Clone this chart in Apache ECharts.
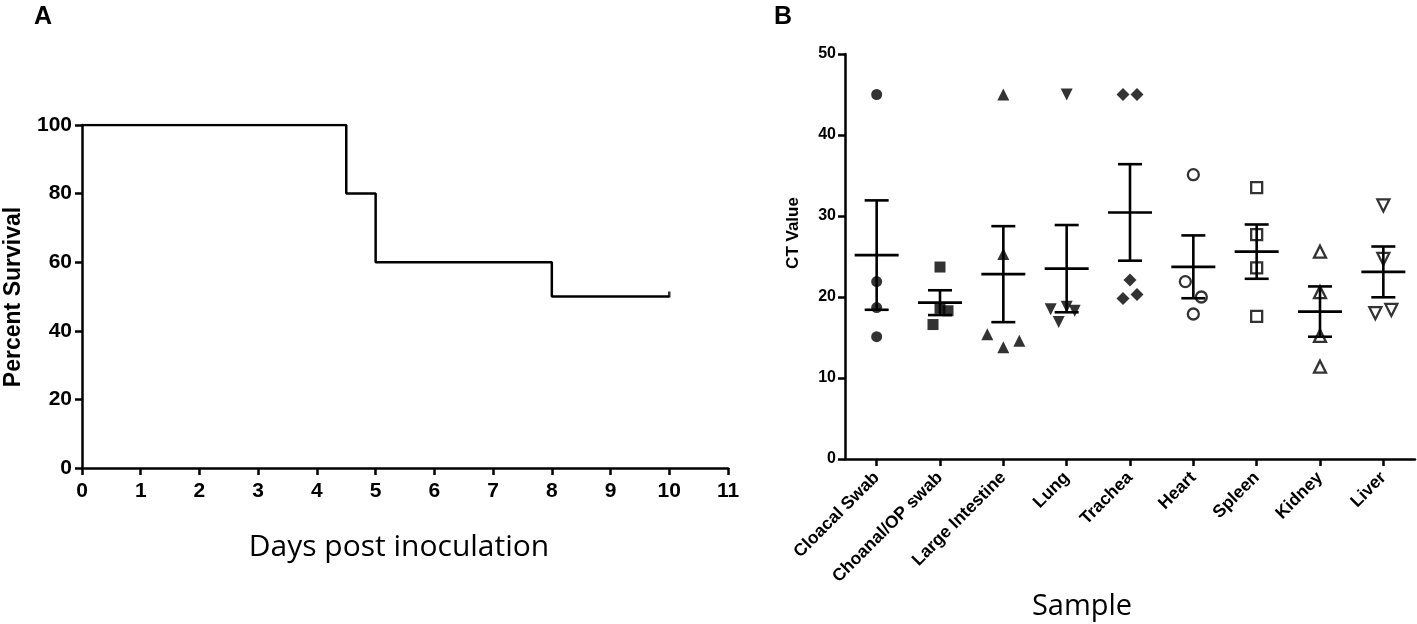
<!DOCTYPE html>
<html>
<head>
<meta charset="utf-8">
<script src="https://cdn.jsdelivr.net/npm/echarts@6/dist/echarts.min.js"></script>
<style>
html,body{margin:0;padding:0;background:#fff;}
#chart{width:1417px;height:624px;}
</style>
</head>
<body>
<div id="chart"></div>
<script>
// ---- Panel A data ----
const survDays = [0, 4.5, 5, 8, 10];
const survPct = [100, 80, 60, 50, 50];
const daysTicks = [0,1,2,3,4,5,6,7,8,9,10,11];

// ---- Panel B data ----
const categories = ['Cloacal Swab','Choanal/OP swab','Large Intestine','Lung','Trachea','Heart','Spleen','Kidney','Liver'];
const ctCloacal = [45, 21.9, 18.7, 15.1];
const ctChoanal = [23.7, 18.6, 18.3, 16.6];
const ctLargeInt = [45, 25.3, 15.4, 13.8, 14.6];
const ctLung = [45, 18.5, 16.9, 18.8, 18.3];
const ctTrachea = [45, 45, 22.1, 19.8, 20.3];
const ctHeart = [35.1, 21.9, 20.0, 17.9];
const ctSpleen = [33.5, 27.7, 23.6, 17.6];
const ctKidney = [25.6, 20.6, 15.2, 11.4];
const ctLiver = [31.3, 24.7, 18.0, 18.4];
const ctValues = [ctCloacal, ctChoanal, ctLargeInt, ctLung, ctTrachea, ctHeart, ctSpleen, ctKidney, ctLiver];

// horizontal jitter of each dot (pixels, presentation only)
const jitterPx = [
  [0,0,0,0],[0,0,8,-7],[0,0,-16,0,16],[0,-16,-8,0,8],[-7,7,0,-7,7],
  [0,-8,8,0],[0,0,0,0],[0,0,0,0],[0,0,-8,8]
];

const invTri = 'path://M0,0 L10,0 L5,9 Z';
const markerStyles = [
  {symbol:'circle', size:11, open:false},
  {symbol:'rect', size:11, open:false},
  {symbol:'triangle', size:12, open:false},
  {symbol:invTri, size:12, open:false},
  {symbol:'diamond', size:13, open:false},
  {symbol:'circle', size:11, open:true},
  {symbol:'rect', size:11, open:true},
  {symbol:'triangle', size:12, open:true},
  {symbol:invTri, size:12, open:true}
];

function meanSem(arr){
  const n = arr.length;
  const m = arr.reduce((a,b)=>a+b,0)/n;
  const sd = Math.sqrt(arr.reduce((a,b)=>a+(b-m)*(b-m),0)/(n-1));
  return [m, sd/Math.sqrt(n)];
}
const stats = ctValues.map((v,i)=>{ const r = meanSem(v); return [i, r[0], r[0]-r[1], r[0]+r[1]]; });

const FONT = 'Liberation Sans';
const TITLE_FONT = 'Open Sans';
const axisLine = {show:true, lineStyle:{color:'#000', width:2.5}};
const axisTick = {show:true, length:7, lineStyle:{color:'#000', width:2.5}};

const scatterSeries = ctValues.map((vals, ci)=>{
  const ms = markerStyles[ci];
  return {
    type:'scatter', xAxisIndex:1, yAxisIndex:1, z:3,
    symbol: ms.symbol, symbolSize: ms.size,
    itemStyle: ms.open ? {color:'#fff', borderColor:'#000', borderWidth:2.3} : {color:'#000'},
    data: vals.map((v,k)=>({value:[ci, v], symbolOffset:[jitterPx[ci][k], 0]}))
  };
});

const chart = echarts.init(document.getElementById('chart'));
chart.setOption({
  animation:false,
  backgroundColor:'#fff',
  graphic:[
    {type:'text', left:34, top:5, style:{text:'A', font:'bold 25px "Liberation Sans"', fill:'#000'}},
    {type:'text', left:774, top:5, style:{text:'B', font:'bold 25px "Liberation Sans"', fill:'#000'}},
    {type:'text', x:399, y:547, style:{text:'Days post inoculation', font:'30px "Open Sans"', fill:'#000', textAlign:'center', textVerticalAlign:'middle'}},
    {type:'text', x:1082, y:607, style:{text:'Sample', font:'29px "Open Sans"', fill:'#000', textAlign:'center', textVerticalAlign:'middle'}},
    {type:'text', x:14, y:297, rotation:Math.PI/2, style:{text:'Percent Survival', font:'bold 23px "Liberation Sans"', fill:'#000', textAlign:'center', textVerticalAlign:'middle'}},
    {type:'text', x:793, y:233, rotation:Math.PI/2, style:{text:'CT Value', font:'bold 17px "Liberation Sans"', fill:'#000', textAlign:'center', textVerticalAlign:'middle'}}
  ],
  grid:[
    {left:82, top:125, width:646, height:343},
    {left:845, top:54, width:570, height:405}
  ],
  xAxis:[
    {type:'value', gridIndex:0, min:daysTicks[0], max:daysTicks[daysTicks.length-1], interval:1,
     axisLine, axisTick, splitLine:{show:false},
     axisLabel:{color:'#000', fontFamily:FONT, fontWeight:'bold', fontSize:21, margin:13}},
    {type:'category', gridIndex:1, data:categories, boundaryGap:true,
     axisLine, axisTick:{show:true, alignWithLabel:true, length:7, lineStyle:{color:'#000', width:2.5}},
     axisLabel:{color:'#000', fontFamily:FONT, fontWeight:'bold', fontSize:17.5, rotate:45, margin:16, interval:0}}
  ],
  yAxis:[
    {type:'value', gridIndex:0, min:0, max:100, interval:20,
     axisLine, axisTick, splitLine:{show:false},
     axisLabel:{color:'#000', fontFamily:FONT, fontWeight:'bold', fontSize:21, margin:10}},
    {type:'value', gridIndex:1, min:0, max:50, interval:10,
     axisLine, axisTick, splitLine:{show:false},
     axisLabel:{color:'#000', fontFamily:FONT, fontWeight:'bold', fontSize:16, margin:9}}
  ],
  series:[
    {type:'line', xAxisIndex:0, yAxisIndex:0, step:'end', symbol:'none',
     lineStyle:{color:'#000', width:2.5},
     data: survDays.map((d,i)=>[d, survPct[i]])},
    {type:'scatter', xAxisIndex:0, yAxisIndex:0, symbol:'rect', symbolSize:[2.5,6], symbolOffset:[0,-2],
     itemStyle:{color:'#000'},
     data:[[survDays[survDays.length-1], survPct[survPct.length-1]]]},
    ...scatterSeries,
    {type:'custom', xAxisIndex:1, yAxisIndex:1, z:4,
     data: stats,
     renderItem:function(params, api){
       const c = api.coord([api.value(0), api.value(1)]);
       const lo = api.coord([api.value(0), api.value(2)]);
       const hi = api.coord([api.value(0), api.value(3)]);
       const st = {stroke:'#000', lineWidth:2.6};
       return {type:'group', children:[
         {type:'line', shape:{x1:c[0], y1:hi[1], x2:c[0], y2:lo[1]}, style:st},
         {type:'line', shape:{x1:c[0]-12, y1:hi[1], x2:c[0]+12, y2:hi[1]}, style:st},
         {type:'line', shape:{x1:c[0]-12, y1:lo[1], x2:c[0]+12, y2:lo[1]}, style:st},
         {type:'line', shape:{x1:c[0]-22, y1:c[1], x2:c[0]+22, y2:c[1]}, style:st}
       ]};
     }}
  ]
});
</script>
</body>
</html>
